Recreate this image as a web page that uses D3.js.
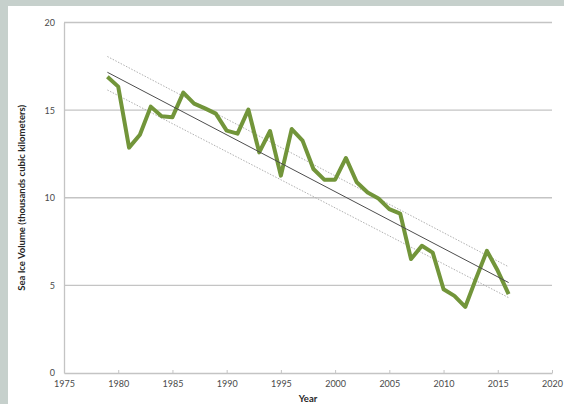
<!DOCTYPE html>
<meta charset="utf-8">
<style>
body { margin: 0; background: #c6d0cc; }
text { font-family: "Lato", "Open Sans", sans-serif; }
</style>
<body>
<script src="https://cdn.jsdelivr.net/npm/d3@7/dist/d3.min.js"></script>
<script>

// data
var years = d3.range(1979, 2017);
var volume = [16.9, 16.34, 12.86, 13.6, 15.2, 14.65, 14.6, 16.0, 15.37, 15.1,
              14.8, 13.83, 13.66, 15.03, 12.59, 13.81, 11.26, 13.92, 13.26, 11.64,
              11.03, 11.03, 12.27, 10.88, 10.3, 9.96, 9.35, 9.1, 6.5, 7.26,
              6.87, 4.78, 4.4, 3.77, 5.4, 6.97, 5.83, 4.5];
// trend line and its bands (start and end, 1979 and 2016)
var trendYears = [1979, 2016];
var trend = [17.16, 5.16];
var upper = [18.06, 6.06];
var lower = [16.15, 4.3];
var xTicks = [1975, 1980, 1985, 1990, 1995, 2000, 2005, 2010, 2015, 2020];
var yTicks = [0, 5, 10, 15, 20];

var W = 564, H = 404;
var svg = d3.select("body").append("svg")
    .attr("width", W)
    .attr("height", H);

// white panel
svg.append("rect")
    .attr("x", 8).attr("y", 6)
    .attr("width", W - 8).attr("height", H - 6)
    .attr("fill", "#fff");

var x = d3.scaleLinear().domain([1975, 2020]).range([64, 552]);
var y = d3.scaleLinear().domain([0, 20]).range([373, 22.5]);

// gridlines
svg.append("g").selectAll("line")
    .data(yTicks.filter(function(d) { return d > 0; })).enter()
    .append("line")
    .attr("x1", x(1975)).attr("x2", x(2020))
    .attr("y1", function(d) { return y(d); })
    .attr("y2", function(d) { return y(d); })
    .attr("stroke", "#c4c4c4")
    .attr("stroke-width", 1.3);

// y axis
var yAxis = svg.append("g")
    .attr("transform", "translate(" + x(1975) + ",0)")
    .call(d3.axisLeft(y).tickValues(yTicks).tickSize(0).tickPadding(9));
yAxis.select(".domain").attr("stroke", "#c4c4c4").attr("stroke-width", 1.3);
yAxis.selectAll("text").attr("fill", "#4a4a4a").style("font-size", "9px")
    .style("font-family", "Lato, sans-serif");

// x axis
var xAxis = svg.append("g")
    .attr("transform", "translate(0," + y(0) + ")")
    .call(d3.axisBottom(x).tickValues(xTicks).tickFormat(d3.format("d"))
        .tickSizeInner(-3).tickSizeOuter(0).tickPadding(8));
xAxis.select(".domain").attr("stroke", "#c4c4c4").attr("stroke-width", 1.3);
xAxis.selectAll(".tick line").attr("stroke", "#c4c4c4");
xAxis.selectAll("text").attr("fill", "#4a4a4a").style("font-size", "9px")
    .style("font-family", "Lato, sans-serif");

// bands
function seg(vals) {
  return d3.line()
    .x(function(d, i) { return x(trendYears[i]); })
    .y(function(d) { return y(d); })(vals);
}
[upper, lower].forEach(function(b) {
  svg.append("path")
    .attr("d", seg(b))
    .attr("fill", "none")
    .attr("stroke", "#b0b0b0")
    .attr("stroke-width", 1)
    .attr("stroke-dasharray", "1.5,1.5");
});

// data line
var line = d3.line()
    .x(function(d, i) { return x(years[i]); })
    .y(function(d) { return y(d); });

svg.append("path")
    .attr("d", line(volume))
    .attr("fill", "none")
    .attr("stroke", "#72953a")
    .attr("stroke-width", 4)
    .attr("stroke-linejoin", "round");

// trend line
svg.append("path")
    .attr("d", seg(trend))
    .attr("fill", "none")
    .attr("stroke", "#4d4d4d")
    .attr("stroke-width", 1);

// axis titles
svg.append("text")
    .attr("transform", "translate(25," + ((y(0) + y(20)) / 2) + ") rotate(-90)")
    .attr("text-anchor", "middle")
    .style("font-size", "9.5px")
    .style("font-weight", "bold")
    .attr("fill", "#262626")
    .text("Sea Ice Volume (thousands cubic kilometers)");

svg.append("text")
    .attr("x", (x(1975) + x(2020)) / 2)
    .attr("y", 402)
    .attr("text-anchor", "middle")
    .style("font-size", "9.5px")
    .style("font-weight", "bold")
    .attr("fill", "#262626")
    .text("Year");

</script>
</body>
